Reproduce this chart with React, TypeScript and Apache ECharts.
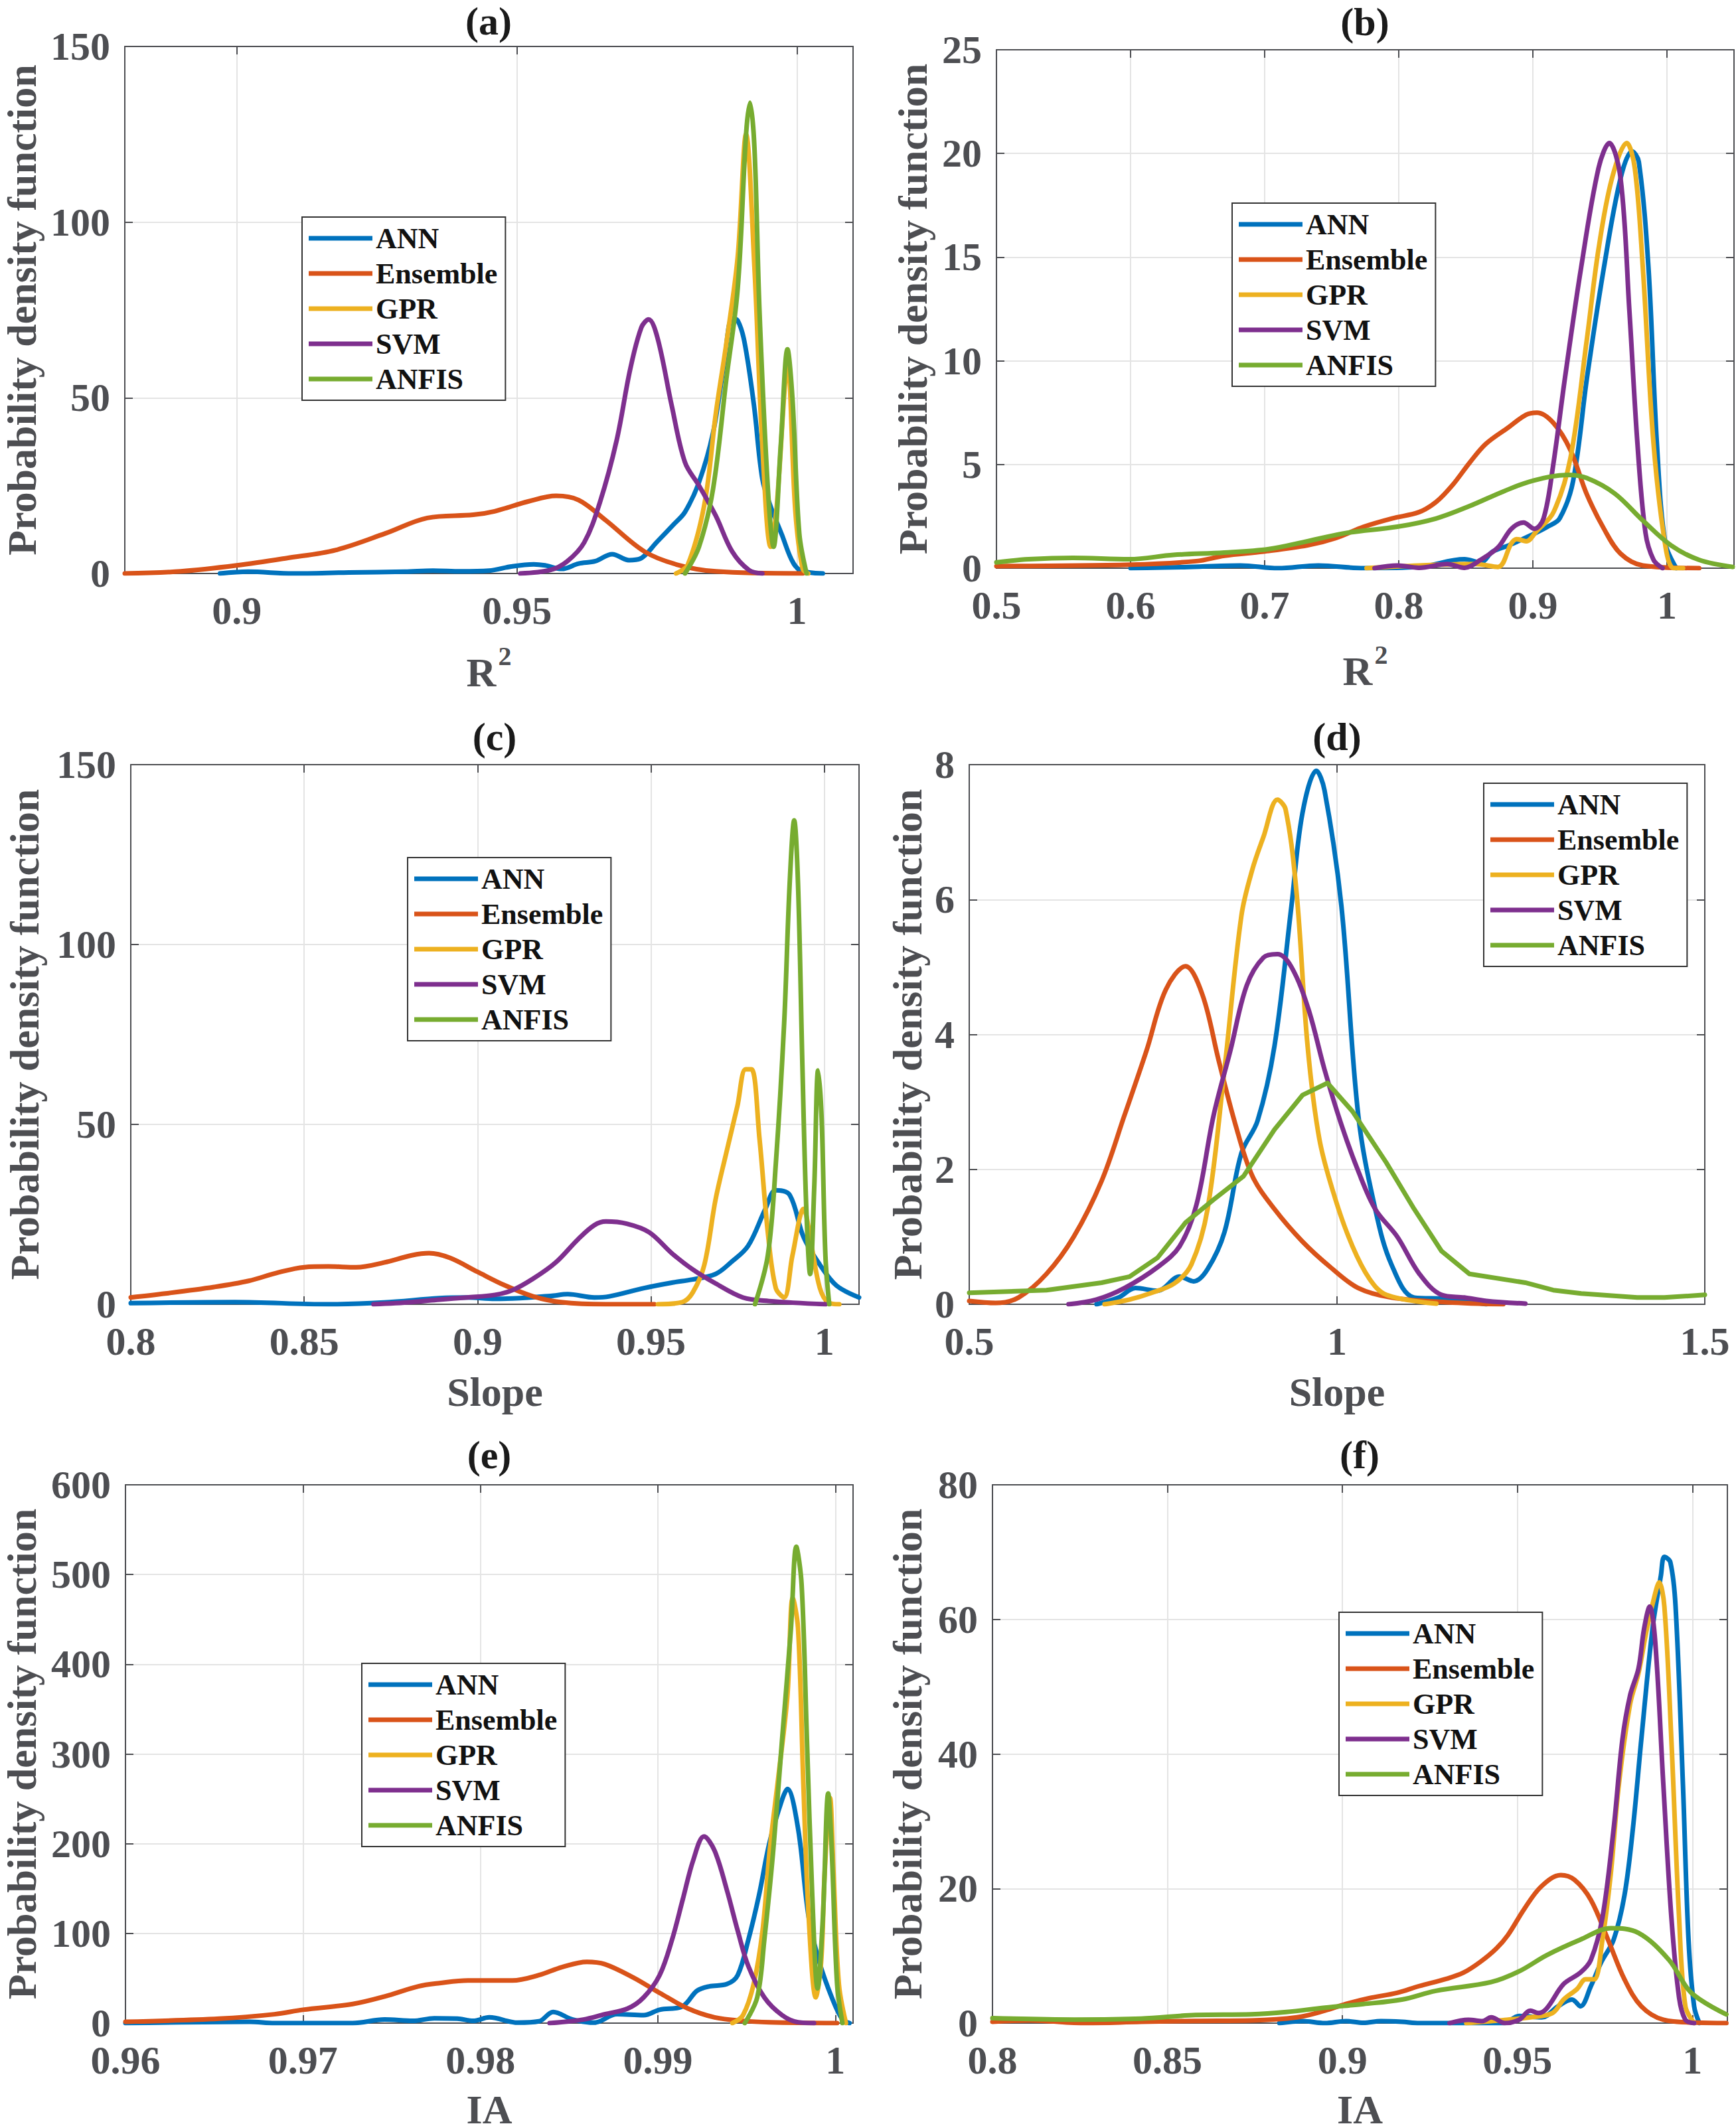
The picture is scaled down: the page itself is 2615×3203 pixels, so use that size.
import React, { useEffect, useRef } from 'react';
import * as echarts from 'echarts';

const FONT = '"Liberation Serif", "Times New Roman", Times, serif';
const AXIS_COLOR = '#4d4e52';
const GRID_COLOR = '#e4e4e4';

const SERIES_NAMES = ['ANN', 'Ensemble', 'GPR', 'SVM', 'ANFIS'];
const COLORS = ['#0072BD', '#D95319', '#EDB120', '#7E2F8E', '#77AC30'];

// ---------- tick values ----------
const X_TICKS_A = [0.9, 0.95, 1];
const X_TICKS_B = [0.5, 0.6, 0.7, 0.8, 0.9, 1];
const X_TICKS_C = [0.8, 0.85, 0.9, 0.95, 1];
const X_TICKS_D = [0.5, 1, 1.5];
const X_TICKS_E = [0.96, 0.97, 0.98, 0.99, 1];
const X_TICKS_F = [0.8, 0.85, 0.9, 0.95, 1];

// ---------- (a) R2 ----------
const A_ANN = [[0.897,0],[0.902,0.5],[0.91,0],[0.92,0.3],[0.93,0.5],[0.935,0.8],[0.94,0.6],[0.945,0.8],[0.949,2],[0.953,2.6],[0.955,2.3],[0.958,1.3],[0.961,2.8],[0.964,3.5],[0.967,5.5],[0.970,3.8],[0.972,4.2],[0.975,9],[0.978,14],[0.980,17.5],[0.9825,26],[0.985,40],[0.987,60],[0.9884,72.5],[0.9894,72],[0.9906,66],[0.9923,48],[0.9938,27],[0.9953,19],[0.9973,11],[0.999,4],[1.0005,1],[1.0046,0]];
const A_ENS = [[0.88,0],[0.89,0.6],[0.9,2.3],[0.909,4.4],[0.9177,6.7],[0.9265,11.4],[0.934,15.8],[0.9422,16.7],[0.946,17.7],[0.952,20.5],[0.957,22.1],[0.961,20.9],[0.9658,15.2],[0.9727,6.3],[0.9786,2.5],[0.9855,0.6],[1.001,0]];
const A_GPR = [[0.9784,0],[0.9805,2.5],[0.9835,20],[0.9855,45.5],[0.9874,65.7],[0.9894,90],[0.9909,125],[0.9924,87],[0.9938,36.6],[0.9953,7.6],[0.9963,17.7],[0.9978,53],[0.9983,60],[0.9997,17.7],[1.001,1.3],[1.002,0]];
const A_SVM = [[0.9506,0],[0.956,1],[0.959,3.5],[0.962,8.8],[0.9648,20.2],[0.9678,37.9],[0.9702,58],[0.9722,70],[0.9735,72.3],[0.9751,67],[0.9776,48],[0.98,31.6],[0.9825,25],[0.9855,16.4],[0.9884,6.3],[0.9914,1],[0.9938,0]];
const A_ANF = [[0.98,0],[0.9825,7.6],[0.985,24],[0.9874,55.6],[0.9894,81],[0.9909,125],[0.9916,134],[0.9924,121],[0.9933,74.6],[0.9948,24],[0.9958,7.6],[0.9971,36.6],[0.9983,63.8],[0.9992,49.3],[1.0004,11.4],[1.0017,0]];

// ---------- (b) R2 ----------
const B_ANN = [[0.6,0],[0.64,0.05],[0.682,0.13],[0.71,0],[0.74,0.13],[0.774,0],[0.815,0.06],[0.849,0.43],[0.861,0.28],[0.87,0.8],[0.882,1.1],[0.899,1.6],[0.911,2],[0.92,2.4],[0.93,4.2],[0.9404,9.2],[0.953,14.5],[0.9654,18.8],[0.974,20.1],[0.979,19.6],[0.9862,14.5],[0.9925,6],[0.9988,1.2],[1.007,0]];
const B_ENS = [[0.5,0.1],[0.6,0.17],[0.649,0.34],[0.67,0.6],[0.699,0.8],[0.732,1.1],[0.753,1.45],[0.774,2],[0.795,2.4],[0.815,2.7],[0.828,3.2],[0.84,4],[0.853,5.1],[0.865,6],[0.882,6.8],[0.895,7.4],[0.903,7.5],[0.9154,7],[0.928,5.7],[0.94,3.6],[0.953,1.9],[0.9654,0.7],[0.982,0.13],[1.024,0]];
const B_GPR = [[0.776,0],[0.815,0.13],[0.857,0.2],[0.874,0.06],[0.884,1.2],[0.888,1.4],[0.895,1.3],[0.903,1.8],[0.9154,2.7],[0.928,5.3],[0.94,10.9],[0.949,15.4],[0.959,18.8],[0.97,20.5],[0.976,19.3],[0.982,14.5],[0.99,6],[0.999,1],[1.005,0],[1.012,0]];
const B_SVM = [[0.782,0],[0.799,0.13],[0.815,0.02],[0.836,0.2],[0.849,0.02],[0.861,0.4],[0.874,1],[0.884,1.9],[0.893,2.2],[0.901,1.9],[0.908,2.4],[0.915,4.9],[0.924,9.2],[0.936,14.5],[0.949,19.3],[0.957,20.5],[0.9654,18.8],[0.972,12.4],[0.978,6],[0.984,1.7],[0.99,0.4],[0.9967,0]];
const B_ANF = [[0.5,0.28],[0.524,0.43],[0.557,0.5],[0.599,0.43],[0.632,0.64],[0.67,0.75],[0.703,0.92],[0.732,1.3],[0.761,1.7],[0.799,2],[0.828,2.4],[0.853,3],[0.878,3.7],[0.899,4.2],[0.926,4.5],[0.94,4.35],[0.961,3.6],[0.982,2.3],[1.003,1.1],[1.024,0.4],[1.049,0.06]];

// ---------- (c) Slope ----------
const C_ANN = [[0.8,0.3],[0.83,0.6],[0.857,0],[0.873,0.5],[0.889,1.7],[0.897,1.9],[0.905,1.5],[0.921,2.3],[0.926,2.8],[0.9337,1.9],[0.938,2.2],[0.948,4.5],[0.956,6],[0.962,6.9],[0.9686,8.4],[0.973,11.6],[0.978,16.2],[0.983,26.5],[0.986,31.7],[0.99,30.4],[0.994,18.7],[0.9987,11],[1.0035,5.2],[1.01,1.9]];
const C_ENS = [[0.8,1.9],[0.81,3],[0.824,4.8],[0.834,6.5],[0.842,8.7],[0.85,10.3],[0.857,10.5],[0.865,10.3],[0.873,11.6],[0.881,13.6],[0.886,14.2],[0.892,12.9],[0.9,9],[0.908,5.2],[0.916,2.2],[0.924,0.6],[0.937,0],[0.951,0]];
const C_GPR = [[0.952,0],[0.959,0.6],[0.962,3.2],[0.9654,11],[0.9686,29],[0.9717,42],[0.9749,55],[0.9773,65.3],[0.979,65.3],[0.9813,46],[0.9837,20],[0.986,4.5],[0.9884,1.9],[0.9908,13.6],[0.994,26.5],[0.9963,16.2],[0.9987,4.5],[1.001,0.6],[1.0043,0]];
const C_SVM = [[0.87,0],[0.881,0.6],[0.889,1.3],[0.897,1.9],[0.905,2.6],[0.91,3.9],[0.916,7.1],[0.9225,11.6],[0.929,18.1],[0.9337,22],[0.937,23],[0.943,22.4],[0.9495,20],[0.956,14.2],[0.962,9.7],[0.9686,5.8],[0.9765,1.9],[0.984,0.9],[1.0003,0]];
const C_ANF = [[0.98,0],[0.9837,13.6],[0.986,39],[0.9884,78],[0.99,117],[0.9913,134.5],[0.9924,117],[0.9937,65],[0.9948,26.5],[0.9959,8.4],[0.9971,33],[0.9982,65],[0.9992,52],[1.0003,13.6],[1.0014,0]];

// ---------- (d) Slope ----------
const D_ANN = [[0.673,0],[0.703,0.1],[0.726,0.24],[0.756,0.2],[0.786,0.41],[0.805,0.34],[0.824,0.52],[0.847,1.07],[0.87,2.24],[0.892,2.72],[0.915,3.83],[0.938,5.9],[0.953,7.28],[0.972,7.91],[0.983,7.62],[1.006,5.9],[1.029,2.79],[1.052,1.41],[1.074,0.59],[1.105,0.1],[1.15,0.08],[1.203,0]];
const D_ENS = [[0.5,0.05],[0.536,0.02],[0.567,0.1],[0.605,0.45],[0.642,1.0],[0.68,1.83],[0.711,2.8],[0.741,3.76],[0.767,4.66],[0.794,5.01],[0.817,4.59],[0.839,3.62],[0.862,2.66],[0.885,1.9],[0.915,1.41],[0.953,0.93],[0.991,0.55],[1.029,0.24],[1.074,0.1],[1.15,0.03],[1.226,0]];
const D_GPR = [[0.684,0],[0.718,0.07],[0.748,0.17],[0.779,0.31],[0.802,0.59],[0.824,1.41],[0.847,3.48],[0.87,5.76],[0.885,6.45],[0.9,6.93],[0.919,7.48],[0.93,7.34],[0.945,6.1],[0.96,3.83],[0.976,2.45],[0.998,1.55],[1.021,0.86],[1.044,0.38],[1.067,0.14],[1.135,0.01]];
const D_SVM = [[0.635,0],[0.673,0.07],[0.711,0.24],[0.756,0.55],[0.786,0.86],[0.809,1.48],[0.832,2.79],[0.855,3.76],[0.877,4.72],[0.9,5.14],[0.919,5.19],[0.938,5.0],[0.961,4.38],[0.983,3.48],[1.006,2.66],[1.029,1.97],[1.052,1.41],[1.082,1.0],[1.112,0.45],[1.142,0.14],[1.173,0.1],[1.203,0.05],[1.256,0.01]];
const D_ANF = [[0.5,0.17],[0.605,0.21],[0.68,0.32],[0.718,0.41],[0.756,0.69],[0.794,1.21],[0.832,1.55],[0.873,1.9],[0.915,2.59],[0.953,3.1],[0.987,3.28],[1.021,2.86],[1.067,2.1],[1.105,1.41],[1.142,0.79],[1.18,0.45],[1.256,0.32],[1.294,0.21],[1.332,0.16],[1.408,0.1],[1.445,0.1],[1.5,0.14]];

// ---------- (e) IA ----------
const E_ANN = [[0.96,0],[0.967,1.5],[0.9684,0],[0.9728,0],[0.9746,4],[0.9762,2.5],[0.9774,5.4],[0.9787,5],[0.9796,2.5],[0.9805,6.4],[0.9821,0.5],[0.9833,2],[0.9841,12.4],[0.9852,4],[0.9864,0.5],[0.9877,9.9],[0.9892,8.9],[0.9901,14.9],[0.9914,18.8],[0.9922,36],[0.9929,41],[0.9939,43.6],[0.9945,53.5],[0.9951,93],[0.9957,142.6],[0.9963,202],[0.997,249],[0.9973,261],[0.9979,217],[0.9985,118],[0.9991,68],[0.9998,28.7],[1.0004,4],[1.0008,0]];
const E_ENS = [[0.96,1.5],[0.9653,5],[0.9684,9.9],[0.97,14.9],[0.9728,21.3],[0.9746,29.7],[0.9765,41],[0.9777,44.6],[0.9793,47.5],[0.9818,47.5],[0.9833,53.5],[0.9846,62.4],[0.986,68.3],[0.987,65.8],[0.9886,51],[0.9901,33.7],[0.9917,16.3],[0.9932,6.4],[0.9948,2.5],[0.9963,1],[1.0001,0]];
const E_GPR = [[0.9942,0],[0.9948,8.9],[0.9954,43.6],[0.9959,103],[0.9963,192],[0.9968,276],[0.9973,365],[0.9976,474],[0.9979,440],[0.9982,266],[0.9985,118],[0.9989,28.7],[0.9992,68],[0.9994,167],[0.9997,251],[0.9999,167],[1.0002,43.6],[1.0006,0]];
const E_SVM = [[0.9839,0],[0.9858,4],[0.987,9.9],[0.9883,16.3],[0.9892,28.7],[0.9901,53.5],[0.9908,93],[0.9914,137.6],[0.992,182],[0.9926,208],[0.9932,192],[0.9939,147.5],[0.9945,103],[0.9951,63.4],[0.996,28.7],[0.997,8.9],[0.9979,1],[0.9988,0]];
const E_ANF = [[0.9949,0],[0.9956,28.7],[0.996,93],[0.9965,192],[0.997,316],[0.9975,440],[0.9978,531],[0.9981,489],[0.9984,316],[0.9987,142.6],[0.999,38.6],[0.9993,118],[0.9996,256],[0.9998,192],[1.0001,43.6],[1.0004,0]];

// ---------- (f) IA ----------
const F_ANN = [[0.882,0],[0.8886,0.3],[0.895,0],[0.901,0.3],[0.906,0.05],[0.911,0.3],[0.917,0.2],[0.922,0],[0.946,0],[0.9505,1.05],[0.957,0.86],[0.9616,2.5],[0.9656,3.5],[0.968,2.5],[0.971,5.5],[0.974,9.1],[0.9775,12.4],[0.9806,19],[0.983,28.9],[0.9854,42.1],[0.9886,58.6],[0.991,66.5],[0.992,69.3],[0.9937,68.5],[0.9952,61.9],[0.9973,35.5],[0.9989,12.4],[1.0005,2.5],[1.002,0]];
const F_ENS = [[0.8,0.2],[0.8108,0.4],[0.8267,0],[0.8425,0.2],[0.858,0.33],[0.874,0.4],[0.887,0.86],[0.895,1.85],[0.901,2.84],[0.9076,3.7],[0.9156,4.5],[0.9219,5.5],[0.9298,6.6],[0.9346,7.5],[0.9394,9.1],[0.944,11.1],[0.9473,13.1],[0.952,17],[0.9568,20.3],[0.9624,22],[0.9663,21.3],[0.971,18.3],[0.9759,12.4],[0.9806,6.5],[0.9854,2.5],[0.9917,0.5],[1.0013,0.07],[1.0097,0]];
const F_GPR = [[0.9354,0],[0.9425,0.3],[0.947,0.5],[0.9537,0.86],[0.96,1.5],[0.9632,3.5],[0.9671,5.1],[0.9695,6.5],[0.9719,6.5],[0.9743,12.4],[0.9767,22.3],[0.979,35.5],[0.9822,47.4],[0.9846,52],[0.987,58.6],[0.9894,63.9],[0.9905,65.5],[0.992,61.9],[0.994,42.1],[0.9962,15.7],[0.998,2.5],[1.0005,0]];
const F_SVM = [[0.9306,0],[0.936,0.5],[0.94,0.3],[0.9425,0.86],[0.9465,0],[0.9505,0.5],[0.9537,1.85],[0.956,1.5],[0.9584,2.2],[0.9632,5.8],[0.968,7.5],[0.971,9.4],[0.9743,15.7],[0.9775,28.9],[0.98,42.1],[0.9822,48.7],[0.9846,52.7],[0.9862,58.6],[0.9878,61.9],[0.9894,56.6],[0.9917,35.5],[0.994,15.7],[0.9962,3.8],[0.998,0.5],[1.0005,0]];
const F_ANF = [[0.8,0.73],[0.8235,0.53],[0.8425,0.66],[0.858,1.2],[0.874,1.3],[0.884,1.65],[0.895,2.3],[0.906,2.84],[0.917,3.5],[0.9267,4.8],[0.9425,6.1],[0.9505,7.7],[0.9584,10.1],[0.968,12.4],[0.9767,14.1],[0.9846,13.4],[0.9933,9.4],[0.9997,4.5],[1.0097,1.3]];

// ---------- panel definitions (content) ----------
const PANELS = [
  { label: '(a)', xName: 'R{sup|2}', xMin: 0.88, xMax: 1.01, xTicks: X_TICKS_A, yMax: 150, yStep: 50, data: [A_ANN, A_ENS, A_GPR, A_SVM, A_ANF] },
  { label: '(b)', xName: 'R{sup|2}', xMin: 0.5, xMax: 1.05, xTicks: X_TICKS_B, yMax: 25, yStep: 5, data: [B_ANN, B_ENS, B_GPR, B_SVM, B_ANF] },
  { label: '(c)', xName: 'Slope', xMin: 0.8, xMax: 1.01, xTicks: X_TICKS_C, yMax: 150, yStep: 50, data: [C_ANN, C_ENS, C_GPR, C_SVM, C_ANF] },
  { label: '(d)', xName: 'Slope', xMin: 0.5, xMax: 1.5, xTicks: X_TICKS_D, yMax: 8, yStep: 2, data: [D_ANN, D_ENS, D_GPR, D_SVM, D_ANF] },
  { label: '(e)', xName: 'IA', xMin: 0.96, xMax: 1.001, xTicks: X_TICKS_E, yMax: 600, yStep: 100, data: [E_ANN, E_ENS, E_GPR, E_SVM, E_ANF] },
  { label: '(f)', xName: 'IA', xMin: 0.8, xMax: 1.01, xTicks: X_TICKS_F, yMax: 80, yStep: 20, data: [F_ANN, F_ENS, F_GPR, F_SVM, F_ANF] },
];

// ---------- layout (pixels) ----------
const LAYOUT = [
  { grid: { left: 188, top: 70, width: 1097, height: 794 }, title: [736, 32], legend: [455, 327], yGap: 124, xGap: 104 },
  { grid: { left: 1501, top: 75, width: 1111, height: 781 }, title: [2056, 33], legend: [1856, 306], yGap: 95, xGap: 110 },
  { grid: { left: 197, top: 1152, width: 1097, height: 813 }, title: [745, 1110], legend: [614, 1292], yGap: 129, xGap: 101 },
  { grid: { left: 1460, top: 1152, width: 1108, height: 813 }, title: [2014, 1110], legend: [2235, 1180], yGap: 62, xGap: 101 },
  { grid: { left: 189, top: 2237, width: 1096, height: 811 }, title: [737, 2192], legend: [545, 2506], yGap: 125, xGap: 99 },
  { grid: { left: 1495, top: 2237, width: 1107, height: 811 }, title: [2048, 2192], legend: [2017, 2429], yGap: 97, xGap: 99 },
];

const fmt = (v: number) => String(+Number(v).toFixed(4));

function buildOption() {
  const grid: any[] = [];
  const xAxis: any[] = [];
  const yAxis: any[] = [];
  const series: any[] = [];
  const legend: any[] = [];
  const graphic: any[] = [];

  const lineStyle = { color: AXIS_COLOR, width: 2 };
  const labelStyle = { fontSize: 60, fontWeight: 'bold', fontFamily: FONT, color: AXIS_COLOR };

  PANELS.forEach((p, i) => {
    const L = LAYOUT[i];
    grid.push({ ...L.grid, show: false, containLabel: false, outerBoundsMode: 'none' });

    const xBase = {
      type: 'value', gridIndex: i, min: p.xMin, max: p.xMax,
      axisLine: { show: true, onZero: false, lineStyle },
      axisTick: { show: true, inside: true, length: 12, customValues: p.xTicks, lineStyle },
      silent: true,
    };
    xAxis.push({
      ...xBase, position: 'bottom',
      axisLabel: { show: true, customValues: p.xTicks, margin: 26, formatter: fmt, ...labelStyle },
      splitLine: { show: true, lineStyle: { color: GRID_COLOR, width: 2 } },
      name: p.xName, nameLocation: 'middle', nameGap: L.xGap, nameMoveOverlap: false,
      nameTextStyle: {
        fontSize: 62, fontWeight: 'bold', fontFamily: FONT, color: AXIS_COLOR,
        lineHeight: p.xName.indexOf('sup') >= 0 ? 90 : 62,
        rich: {
          sup: { fontSize: 40, fontWeight: 'bold', fontFamily: FONT, color: AXIS_COLOR, verticalAlign: 'top', lineHeight: 40, padding: [0, 0, 0, 3] },
        },
      },
    });
    xAxis.push({ ...xBase, position: 'top', axisLabel: { show: false }, splitLine: { show: false } });

    const yBase = {
      type: 'value', gridIndex: i, min: 0, max: p.yMax, interval: p.yStep,
      axisLine: { show: true, onZero: false, lineStyle },
      axisTick: { show: true, inside: true, length: 12, lineStyle },
      silent: true,
    };
    yAxis.push({
      ...yBase, position: 'left',
      axisLabel: { show: true, margin: 22, formatter: fmt, ...labelStyle },
      splitLine: { show: true, lineStyle: { color: GRID_COLOR, width: 2 } },
      name: 'Probability density function', nameLocation: 'middle', nameGap: L.yGap, nameMoveOverlap: false,
      nameTextStyle: { fontSize: 62, fontWeight: 'bold', fontFamily: FONT, color: AXIS_COLOR },
    });
    yAxis.push({ ...yBase, position: 'right', axisLabel: { show: false }, splitLine: { show: false } });

    p.data.forEach((d, k) => {
      series.push({
        type: 'line', name: SERIES_NAMES[k], xAxisIndex: 2 * i, yAxisIndex: 2 * i,
        data: d, showSymbol: false, symbol: 'none',
        smooth: (i === 3 && k === 4) ? false : 0.35,
        color: COLORS[k], itemStyle: { color: COLORS[k] },
        lineStyle: { color: COLORS[k], width: 7, join: 'round', cap: 'round' },
        clip: true, silent: true, emphasis: { disabled: true },
      });
    });

    legend.push({
      orient: 'vertical', left: L.legend[0], top: L.legend[1], data: SERIES_NAMES,
      icon: 'rect', itemWidth: 96, itemHeight: 7, itemGap: 9,
      padding: [10, 12, 10, 10], borderColor: '#333', borderWidth: 2, backgroundColor: '#fff',
      selectedMode: false,
      textStyle: { fontSize: 44, fontWeight: 'bold', fontFamily: FONT, color: '#111' },
    });

    graphic.push({
      type: 'text', x: L.title[0], y: L.title[1], silent: true,
      style: { text: p.label, fontSize: 60, fontWeight: 'bold', fontFamily: FONT, fill: '#1a1a1a', align: 'center', verticalAlign: 'middle' },
    });
  });

  return {
    animation: false,
    backgroundColor: '#ffffff',
    textStyle: { fontFamily: FONT },
    grid, xAxis, yAxis, series, legend, graphic,
  };
}

export default function App() {
  const ref = useRef<HTMLDivElement>(null);
  useEffect(() => {
    const chart = echarts.init(ref.current!, null, { renderer: 'svg' });
    chart.setOption(buildOption() as any);
    return () => chart.dispose();
  }, []);
  return (
    <div
      ref={ref}
      style={{ position: 'absolute', left: 0, top: 0, width: 2615, height: 3203, background: '#fff' }}
    />
  );
}
